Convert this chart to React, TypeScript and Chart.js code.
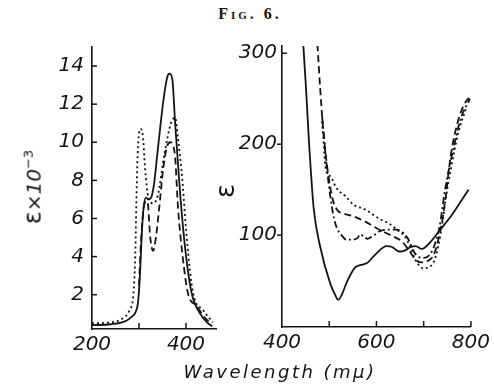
import React, { useEffect, useRef } from 'react';
import { Chart, registerables } from 'chart.js';

Chart.register(...registerables);

// ---------- Left panel data (ε × 10⁻³ vs wavelength, mμ) ----------
const leftSolidX = [200, 240, 270, 285, 293, 298, 302, 306, 310, 315, 320, 326, 332, 340, 352, 360, 365, 371, 377, 387, 398, 412, 429, 446, 456];
const leftSolidY = [0.4, 0.45, 0.6, 0.85, 1.1, 1.6, 3.0, 5.2, 6.6, 7.1, 7.0, 7.1, 7.8, 9.6, 12.2, 13.4, 13.6, 13.3, 11.0, 7.5, 4.5, 2.1, 1.05, 0.52, 0.35];

const leftDottedX = [200, 240, 265, 280, 288, 292, 295, 298, 303, 308, 313, 320, 330, 340, 355, 368, 377, 383, 391, 402, 415, 436, 457];
const leftDottedY = [0.5, 0.55, 0.75, 1.2, 2.0, 4.0, 7.5, 9.8, 10.7, 10.4, 8.6, 7.1, 6.8, 7.2, 9.5, 11.0, 11.3, 10.2, 8.4, 4.9, 2.1, 1.2, 0.55];

const leftDashedX = [300, 306, 312, 318, 324, 330, 336, 342, 352, 360, 367, 373, 377, 383, 393, 404, 423, 440, 455];
const leftDashedY = [2.5, 5.5, 6.8, 6.9, 5.0, 4.3, 5.0, 6.3, 8.7, 9.8, 10.0, 9.8, 9.2, 6.6, 4.0, 2.1, 1.4, 0.8, 0.45];

// ---------- Right panel data (ε vs wavelength, mμ) ----------
const rightSolidX = [445, 451, 457, 467, 481, 502, 512, 519, 527, 537, 554, 565, 579, 600, 621, 633, 648, 660, 673, 683, 696, 715, 735, 758, 780, 795];
const rightSolidY = [310, 260, 204, 130, 87, 47, 35, 29, 35, 48, 64, 67, 69, 80, 88, 87, 82, 83, 87, 88, 85, 93, 106, 121, 138, 150];

const rightDashedX = [475, 481, 487, 496, 508, 518, 529, 550, 579, 606, 630, 654, 668, 683, 696, 710, 721, 731, 740, 746, 758, 773, 785, 797];
const rightDashedY = [310, 260, 218, 174, 138, 127, 124, 121, 114, 106, 100, 93, 84, 73, 70, 72, 78, 95, 118, 140, 190, 226, 243, 252];

const rightDottedX = [485, 493, 502, 515, 536, 550, 577, 606, 626, 648, 661, 675, 683, 692, 700, 710, 721, 731, 740, 746, 758, 773, 790];
const rightDottedY = [225, 172, 165, 152, 142, 134, 128, 118, 113, 104, 98, 82, 72, 66, 63, 65, 70, 88, 115, 138, 174, 212, 240];

const rightDashDotX = [485, 492, 498, 508, 516, 523, 537, 550, 560, 566, 572, 581, 595, 606, 627, 642, 658, 668, 679, 690, 700, 717, 733, 746, 762, 779, 798];
const rightDashDotY = [230, 190, 160, 124, 108, 102, 95, 95, 97, 101, 99, 96, 100, 104, 106, 106, 102, 95, 82, 76, 75, 82, 108, 152, 193, 229, 250];

// ---------- Tick values ----------
const leftYTicks = [2, 4, 6, 8, 10, 12, 14];
const leftXLabels = [200, 400];
const leftXTickMarks = [300, 400];
const rightYTicks = [100, 200, 300];
const rightYOutMarks = [100, 200];
const rightYInMarks = [300];
const rightXLabels = [400, 600, 800];
const rightXTickMarks = [500, 600, 700, 800];

const INK = '#141414';
const tickFont = { family: 'DejaVu Sans', size: 20, style: 'italic' as const };

function pts(xs: number[], ys: number[]) {
  return xs.map((x, i) => ({ x, y: ys[i] }));
}

function lineDs(xs: number[], ys: number[], dash: number[]) {
  return {
    data: pts(xs, ys),
    borderColor: INK,
    borderWidth: 1.8,
    borderDash: dash,
    pointRadius: 0,
    fill: false,
    cubicInterpolationMode: 'monotone' as const,
  };
}

const handTicks = {
  id: 'handTicks',
  afterDraw(chart: any, _args: any, opts: any) {
    const { ctx, chartArea, scales } = chart;
    ctx.save();
    ctx.strokeStyle = INK;
    ctx.lineWidth = 1.5;
    const len = opts.len || 5;
    (opts.xUp || []).forEach((v: number) => {
      const px = scales.x.getPixelForValue(v);
      ctx.beginPath();
      ctx.moveTo(px, chartArea.bottom);
      ctx.lineTo(px, chartArea.bottom - len - 1);
      ctx.stroke();
    });
    (opts.yIn || []).forEach((v: number) => {
      const py = scales.y.getPixelForValue(v);
      ctx.beginPath();
      ctx.moveTo(chartArea.left, py);
      ctx.lineTo(chartArea.left + len, py);
      ctx.stroke();
    });
    (opts.yOut || []).forEach((v: number) => {
      const py = scales.y.getPixelForValue(v);
      ctx.beginPath();
      ctx.moveTo(chartArea.left, py);
      ctx.lineTo(chartArea.left - len, py);
      ctx.stroke();
    });
    ctx.restore();
  },
};

function makeAxis(min: number, max: number, labels: number[], fitKey: 'width' | 'height', fitVal: number, pad: number) {
  return {
    type: 'linear' as const,
    min,
    max,
    grid: { display: false, drawTicks: false },
    border: { display: true, color: INK, width: 1.6 },
    ticks: { color: INK, font: tickFont, padding: pad, autoSkip: false, maxRotation: 0 },
    afterBuildTicks: (scale: any) => {
      scale.ticks = labels.map((v) => ({ value: v }));
    },
    afterFit: (scale: any) => {
      scale[fitKey] = fitVal;
    },
  };
}

function LeftPanel() {
  const ref = useRef<HTMLCanvasElement>(null);
  useEffect(() => {
    const chart = new Chart(ref.current!, {
      type: 'line',
      data: {
        datasets: [
          lineDs(leftSolidX, leftSolidY, []),
          lineDs(leftDottedX, leftDottedY, [2, 3]),
          lineDs(leftDashedX, leftDashedY, [7, 4]),
        ],
      },
      options: {
        animation: false,
        responsive: false,
        devicePixelRatio: 1,
        events: [],
        layout: { padding: { left: 0, top: 47, right: 23.5, bottom: 0 } },
        scales: {
          x: makeAxis(200, 465, leftXLabels, 'height', 59, 4) as any,
          y: makeAxis(0.2, 15, leftYTicks, 'width', 92, 8) as any,
        },
        plugins: {
          legend: { display: false },
          tooltip: { enabled: false },
          handTicks: { xUp: leftXTickMarks, yIn: leftYTicks, len: 5 },
        } as any,
      },
      plugins: [handTicks],
    });
    return () => chart.destroy();
  }, []);
  return <canvas ref={ref} width={240} height={388} style={{ position: 'absolute', left: 0, top: 0, width: 240, height: 388 }} />;
}

function RightPanel() {
  const ref = useRef<HTMLCanvasElement>(null);
  useEffect(() => {
    const chart = new Chart(ref.current!, {
      type: 'line',
      data: {
        datasets: [
          lineDs(rightSolidX, rightSolidY, []),
          lineDs(rightDashedX, rightDashedY, [7, 4]),
          lineDs(rightDottedX, rightDottedY, [2, 3]),
          lineDs(rightDashDotX, rightDashDotY, [7, 3, 2, 3]),
        ],
      },
      options: {
        animation: false,
        responsive: false,
        devicePixelRatio: 1,
        events: [],
        layout: { padding: { left: 0, top: 46, right: 21, bottom: 0 } },
        scales: {
          x: makeAxis(400, 800, rightXLabels, 'height', 61, 4) as any,
          y: makeAxis(-1, 308, rightYTicks, 'width', 82, 5) as any,
        },
        plugins: {
          legend: { display: false },
          tooltip: { enabled: false },
          handTicks: { xUp: rightXTickMarks, yOut: rightYOutMarks, yIn: rightYInMarks, len: 5 },
        } as any,
      },
      plugins: [handTicks],
    });
    return () => chart.destroy();
  }, []);
  return <canvas ref={ref} width={294} height={388} style={{ position: 'absolute', left: 200, top: 0, width: 294, height: 388 }} />;
}

const labelFont = "'DejaVu Sans', sans-serif";

export default function App() {
  return (
    <div style={{ position: 'absolute', left: 0, top: 0, width: 494, height: 388, background: '#fff', overflow: 'hidden' }}>
      <div
        style={{
          position: 'absolute', left: 0, top: 4, width: 494, textAlign: 'center',
          fontFamily: "'Liberation Serif', serif", fontWeight: 'bold', fontVariant: 'small-caps',
          fontSize: 16, letterSpacing: '3px', lineHeight: '20px', color: INK, paddingLeft: 3,
        }}
      >
        Fig. 6.
      </div>
      <LeftPanel />
      <RightPanel />
      <div
        style={{
          position: 'absolute', left: 31, top: 187, transform: 'translate(-50%, -50%) rotate(-90deg)',
          whiteSpace: 'nowrap', fontFamily: labelFont, fontSize: 20, color: INK, lineHeight: '24px',
        }}
      >
        <span style={{ fontSize: 24 }}>ε</span>×<span style={{ fontStyle: 'italic' }}>10</span>
        <sup style={{ fontSize: 13 }}>−3</sup>
      </div>
      <div
        style={{
          position: 'absolute', left: 225, top: 191, transform: 'translate(-50%, -50%) rotate(-90deg)',
          whiteSpace: 'nowrap', fontFamily: labelFont, fontSize: 26, color: INK, lineHeight: '28px',
        }}
      >
        ε
      </div>
      <div
        style={{
          position: 'absolute', left: 280, top: 372, transform: 'translate(-50%, -50%)',
          whiteSpace: 'nowrap', fontFamily: labelFont, fontStyle: 'italic', fontSize: 18,
          letterSpacing: '2.5px', color: INK, lineHeight: '22px',
        }}
      >
        Wavelength (mμ)
      </div>
    </div>
  );
}
